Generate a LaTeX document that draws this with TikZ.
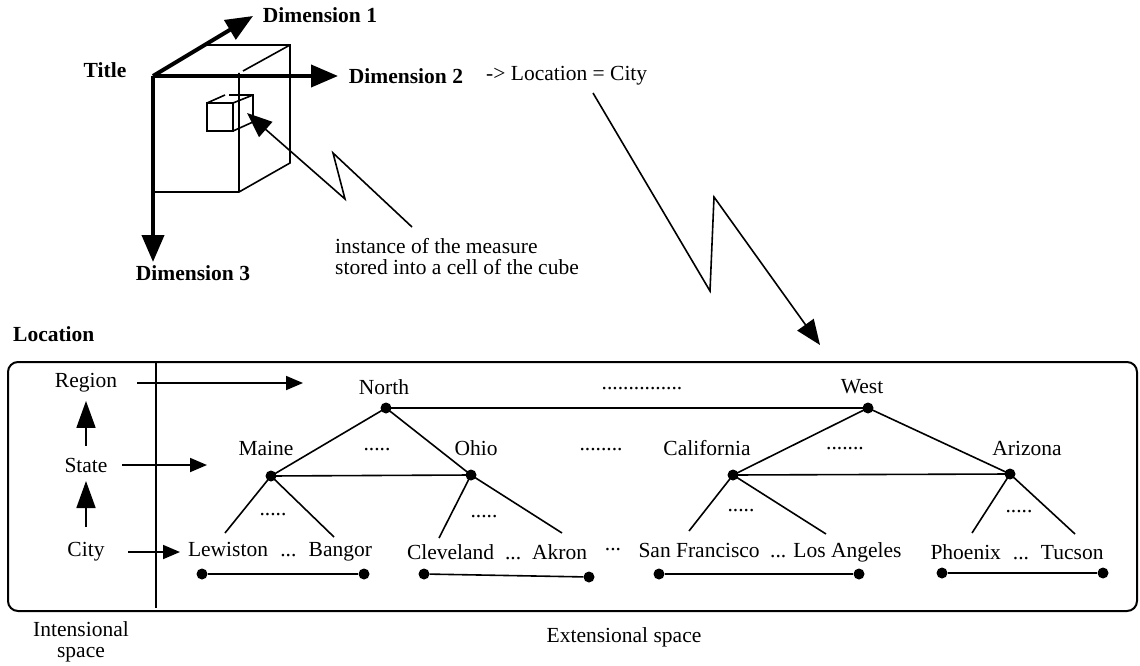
\documentclass[tikz,border=0pt]{standalone}
\usepackage{fontspec}
\setmainfont{Liberation Serif}
\usetikzlibrary{arrows.meta}

\begin{document}
\begin{tikzpicture}[x=1pt,y=-1pt,
    font=\fontsize{21.5}{21}\selectfont,
    every node/.style={inner sep=2pt},
    lbl/.style={font=\fontsize{21.5}{21}\selectfont\bfseries},
    joint/.style={circle,fill=black,inner sep=0pt,minimum size=11pt},
    branch/.style={line width=1.6pt},
    axis/.style={line width=4pt,-{Triangle[length=27pt,width=22pt]}},
    zig/.style={line width=1.6pt,-{Triangle[length=25pt,width=20pt]}},
    harr/.style={line width=1.8pt,-{Triangle[length=17pt,width=14pt]}},
    varr/.style={line width=1.8pt,-{Triangle[length=27pt,width=19pt]}}]
\useasboundingbox (0,0) rectangle (1140,666);
% cube
\draw[branch] (153,192) -- (239,192) -- (290,163) -- (290,45) -- (207,45);
\draw[branch] (239,73) -- (239,192) (243,71) -- (290,45);
\draw[branch] (207,103) rectangle (233,131);
\draw[branch] (207,103) -- (225,95) (229,95) -- (253,95) -- (253,122) -- (233,131)
      (233,103) -- (253,95);
% axes
\coordinate (o) at (153,76);
\coordinate (d1) at (253,16);
\coordinate (d2) at (338,76);
\coordinate (d3) at (153,262);
\draw[axis] (o) -- (d1);
\draw[axis] (o) -- (d2);
\draw[axis] (o) -- (d3);
\node[lbl] (title) at (105,70) {Title};
\node[lbl] (dimone) at (320,15) {Dimension 1};
\node[lbl] (dimtwo) at (406,76) {Dimension 2};
\node[anchor=west] (loccity) at (484,76) {-> Location = City};
\node[lbl] (dimthree) at (193,273) {Dimension 3};
\node[anchor=west,align=left] (measure) at (333,257) {instance of the measure\\stored into a cell of the cube};
% zigzag pointers
\coordinate (meastail) at (412,227);
\coordinate (celltip) at (247,113);
\draw[zig] (meastail) -- (333,153) -- (345,199) -- (celltip);
\coordinate (loctail) at (593,93);
\coordinate (boxtip) at (820,345);
\draw[zig] (loctail) -- (710,291) -- (714,197) -- (boxtip);
% outline
\node[lbl,anchor=west] (location) at (11,334) {Location};
\draw[line width=2pt,rounded corners=10pt] (8,362) rectangle (1137,611);
\draw[line width=2pt] (156,362) -- (156,608);
% intensional levels
\node (region) at (86,383) {Region};
\node (state) at (86,465) {State};
\node (city) at (86,552) {City};
\draw[varr,shorten <=9.6pt,shorten >=6.3pt] (state.north) -- (region.south);
\draw[varr,shorten <=13.3pt,shorten >=6.6pt] (city.north) -- (state.south);
\coordinate (regtip) at (303,383);
\coordinate (statetip) at (207,465);
\coordinate (citytip) at (180,552);
\draw[harr,shorten <=18pt] (region.east) -- (regtip);
\draw[harr,shorten <=12.5pt] (state.east) -- (statetip);
\draw[harr,shorten <=21.5pt] (city.east) -- (citytip);
\node[align=center] (intens) at (81,642) {Intensional\\space};
\node (extens) at (624,637) {Extensional space};
% region level
\node (northlbl) at (384,387) {North};
\node (dotsreg) at (642,389) {...............};
\node (westlbl) at (862,387) {West};
\node[joint] (north) at (386,408) {};
\node[joint] (west) at (868,408) {};
\draw[branch] (north.center) -- (west.center);
% state level
\node (mainelbl) at (266,448) {Maine};
\node (dotsmaine) at (377,450) {.....};
\node (ohiolbl) at (476,448) {Ohio};
\node (dotsstate) at (601,450) {........};
\node (califlbl) at (707,448) {California};
\node (dotscalif) at (845,449) {.......};
\node (arizlbl) at (1027,448) {Arizona};
\node[joint] (maine) at (271,476) {};
\node[joint] (ohio) at (471,475) {};
\node[joint] (calif) at (733,475) {};
\node[joint] (arizona) at (1010,474) {};
\draw[branch] (maine.center) -- (north.center) -- (ohio.center);
\draw[branch] (maine.center) -- (ohio.center);
\draw[branch] (calif.center) -- (west.center) -- (arizona.center);
\draw[branch] (calif.center) -- (arizona.center);
% city level
\coordinate (lewtop) at (225,533);
\coordinate (bangtop) at (334,537);
\coordinate (clevtop) at (439,538);
\coordinate (akrtop) at (562,533);
\coordinate (sftop) at (689,531);
\coordinate (latop) at (826,534);
\coordinate (phxtop) at (972,533);
\coordinate (tuctop) at (1075,534);
\draw[branch] (lewtop) -- (maine.center) -- (bangtop);
\draw[branch] (clevtop) -- (ohio.center) -- (akrtop);
\draw[branch] (sftop) -- (calif.center) -- (latop);
\draw[branch] (phxtop) -- (arizona.center) -- (tuctop);
\node (dotsm) at (273,515) {.....};
\node (dotso) at (484,517) {.....};
\node (dotsc) at (741,511) {.....};
\node (dotsa) at (1019,512) {.....};
\node (grpmaine) at (280,552) {\makebox[184pt]{Lewiston\hfill...\hfill Bangor}};
\node (grpohio) at (497,552) {\makebox[180pt]{Cleveland\hfill...\hfill Akron}};
\node (dotscity) at (613,550) {...};
\node (grpcalif) at (770,552) {\makebox[263pt]{San Francisco\hfill... Los Angeles}};
\node (grpariz) at (1017,552) {\makebox[173pt]{Phoenix\hfill...\hfill Tucson}};
% extension of each city set
\node[joint] (lewend) at (202,574) {};
\node[joint] (bangend) at (364,574) {};
\node[joint] (clevend) at (424,574) {};
\node[joint] (akrend) at (589,577) {};
\node[joint] (sfend) at (659,574) {};
\node[joint] (laend) at (859,574) {};
\node[joint] (phxend) at (942,573) {};
\node[joint] (tucend) at (1103,573) {};
\draw[branch] (lewend) -- (bangend);
\draw[branch] (clevend) -- (akrend);
\draw[branch] (sfend) -- (laend);
\draw[branch] (phxend) -- (tucend);
\end{tikzpicture}
\end{document}
